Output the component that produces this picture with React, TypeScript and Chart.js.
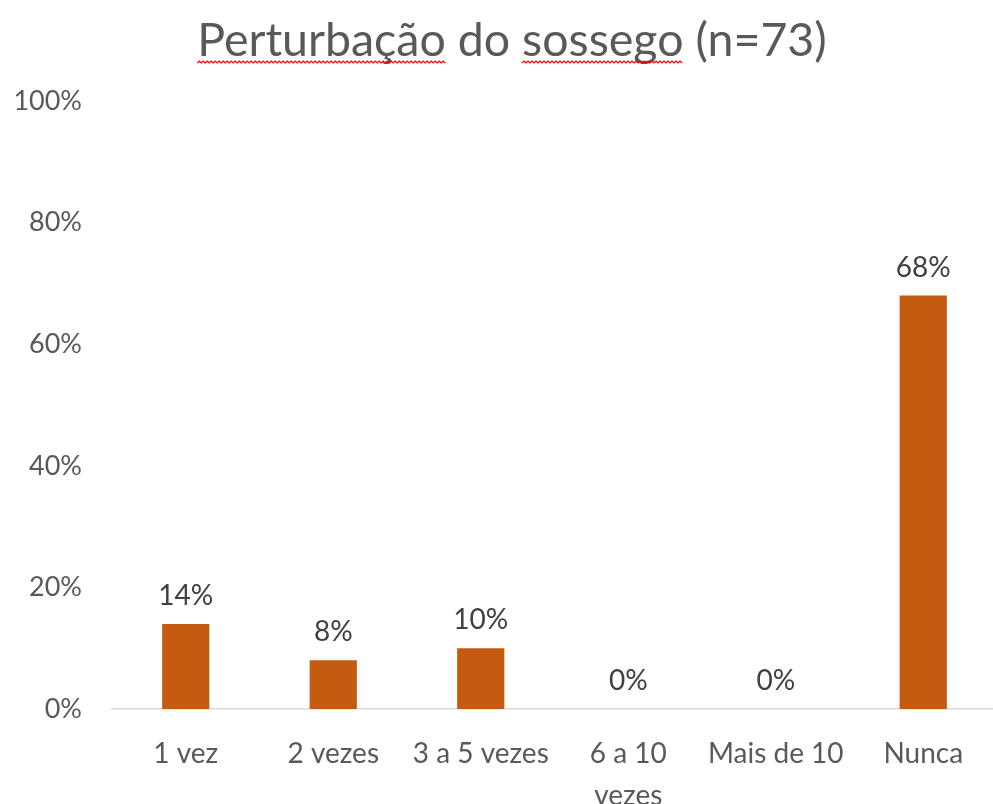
import React, { useEffect, useRef } from "react";
import { Chart, registerables } from "chart.js";

Chart.register(...registerables);

const categories: (string | string[])[] = [
  "1 vez",
  "2 vezes",
  "3 a 5 vezes",
  ["6 a 10", "vezes"],
  "Mais de 10",
  "Nunca",
];
const values: number[] = [14, 8, 10, 0, 0, 68];
const titleText = "Perturbação do sossego (n=73)";
const misspelled: string[] = ["Perturbação", "sossego"];

const FONT = "Lato, 'Open Sans', sans-serif";
const BAR = "#C55A11";
const TEXT = "#595959";
const TITLE_SIZE = 46.5;

const dataLabels = {
  id: "dataLabels",
  afterDatasetsDraw(chart: any) {
    const ctx = chart.ctx;
    const meta = chart.getDatasetMeta(0);
    ctx.save();
    ctx.font = `28px ${FONT}`;
    ctx.fillStyle = "#404040";
    ctx.textAlign = "center";
    ctx.textBaseline = "bottom";
    meta.data.forEach((bar: any, i: number) => {
      ctx.fillText(`${values[i]}%`, bar.x, bar.y - 14);
    });
    ctx.restore();
  },
};

// Chart title, drawn on the canvas, with the spell-check underline of the reference
const titlePlugin = {
  id: "titleWithSquiggle",
  afterDraw(chart: any) {
    const ctx = chart.ctx;
    ctx.save();
    ctx.font = `${TITLE_SIZE}px ${FONT}`;
    ctx.fillStyle = TEXT;
    ctx.textAlign = "left";
    ctx.textBaseline = "middle";
    const total = ctx.measureText(titleText).width;
    const start = 512 - total / 2;
    ctx.fillText(titleText, start, 41);
    const y = 63;
    ctx.strokeStyle = "#FF0000";
    ctx.lineWidth = 1.2;
    misspelled.forEach((w) => {
      const idx = titleText.indexOf(w);
      const x0 = start + ctx.measureText(titleText.slice(0, idx)).width;
      const x1 = x0 + ctx.measureText(w).width;
      ctx.beginPath();
      let up = true;
      ctx.moveTo(x0, y);
      for (let x = x0 + 2; x <= x1; x += 2) {
        ctx.lineTo(x, up ? y - 2 : y);
        up = !up;
      }
      ctx.stroke();
    });
    ctx.restore();
  },
};

export default function App() {
  const ref = useRef<HTMLCanvasElement | null>(null);
  useEffect(() => {
    if (!ref.current) return;
    const chart = new Chart(ref.current, {
      type: "bar",
      data: {
        labels: categories,
        datasets: [
          {
            data: values,
            backgroundColor: BAR,
            barPercentage: 0.32,
            categoryPercentage: 1,
          },
        ],
      },
      options: {
        animation: false,
        responsive: false,
        maintainAspectRatio: false,
        layout: { padding: { left: 0, right: 0, top: 101, bottom: 0 } },
        plugins: {
          legend: { display: false },
          tooltip: { enabled: false },
          title: { display: false },
        },
        scales: {
          x: {
            grid: { display: false },
            border: { display: true, color: "#D9D9D9", width: 1.5 },
            ticks: {
              color: TEXT,
              font: { family: FONT, size: 28, lineHeight: 1.5 },
              padding: 16,
              maxRotation: 0,
              autoSkip: false,
            },
            afterFit(scale: any) {
              scale.height = 95;
            },
          },
          y: {
            min: 0,
            max: 100,
            grid: { display: false },
            border: { display: false },
            ticks: {
              stepSize: 20,
              color: TEXT,
              font: { family: FONT, size: 27 },
              padding: 22,
              callback: (v: any) => `${v}%`,
            },
            afterFit(scale: any) {
              scale.width = 112;
            },
          },
        },
      },
      plugins: [dataLabels, titlePlugin],
    });
    return () => chart.destroy();
  }, []);
  return (
    <div
      style={{
        position: "fixed",
        left: 0,
        top: 0,
        width: 993,
        height: 804,
        overflow: "hidden",
        background: "#fff",
      }}
    >
      <canvas ref={ref} width={997} height={804} style={{ display: "block" }} />
    </div>
  );
}
